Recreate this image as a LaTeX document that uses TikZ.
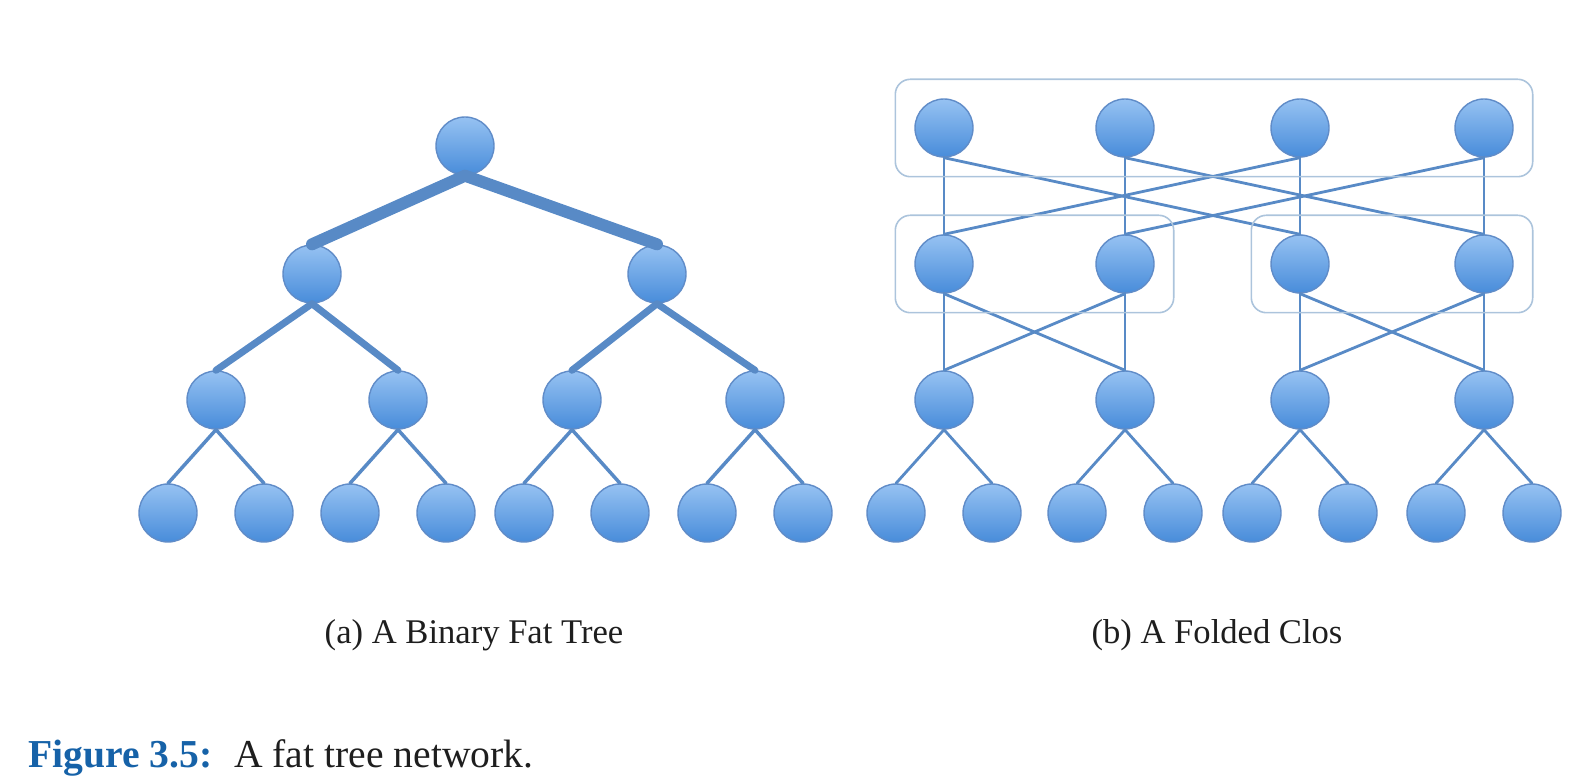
\documentclass[tikz,border=0pt]{standalone}
\usepackage{fontspec}
\setmainfont{Liberation Serif}
\usetikzlibrary{fit}
\definecolor{edgeblue}{RGB}{88,138,198}
\definecolor{ballhi}{RGB}{150,194,242}
\definecolor{balllo}{RGB}{72,140,218}
\definecolor{ballrim}{RGB}{96,140,200}
\definecolor{boxrim}{RGB}{172,196,220}
\definecolor{figblue}{RGB}{22,98,168}
\definecolor{ink}{RGB}{30,30,30}
\begin{document}
\begin{tikzpicture}[x=0.5pt, y=-0.5pt, line cap=round,
	ball/.style={circle, minimum size=29pt, inner sep=0pt, top color=ballhi, bottom color=balllo, draw=ballrim, line width=0.7pt},
	link/.style={draw=edgeblue, line width=#1},
	group/.style={draw=boxrim, line width=0.8pt, rounded corners=7.5pt, inner sep=9.5pt},
	subcap/.style={inner sep=0pt, anchor=base, text=ink, font=\fontsize{17.3}{20}\selectfont}]
	\useasboundingbox (0,0) rectangle (1578,779);
	\node[ball] (r) at (465,146) {};
	\foreach \n/\x in {a1/312, a2/657} \node[ball] (\n) at (\x,274) {};
	\foreach \n/\x in {b1/216, b2/398, b3/572, b4/755}{
		\node[ball] (\n) at (\x,400) {};
		\node[ball] (l\n) at (\x-48,513) {};
		\node[ball] (r\n) at (\x+48,513) {};
		\draw[link=1.75pt] (\n.south)--(l\n.north) (\n.south)--(r\n.north);
	}
	\draw[link=6pt] (r.south)--(a1.north) (r.south)--(a2.north);
	\draw[link=3.5pt] (a1.south)--(b1.north) (a1.south)--(b2.north) (a2.south)--(b3.north) (a2.south)--(b4.north);
	\foreach \i/\x in {1/944, 2/1125, 3/1300, 4/1484}{
		\node[ball] (t\i) at (\x,128) {};
		\node[ball] (m\i) at (\x,264) {};
		\node[ball] (e\i) at (\x,400) {};
		\node[ball] (le\i) at (\x-48,513) {};
		\node[ball] (re\i) at (\x+48,513) {};
		\draw[link=1.4pt] (e\i.south)--(le\i.north) (e\i.south)--(re\i.north);
	}
	\foreach \a/\b in {1/1, 1/3, 2/2, 2/4, 3/3, 3/1, 4/4, 4/2} \draw[link=1.4pt] (t\a.south)--(m\b.north);
	\foreach \a/\b in {1/1, 1/2, 2/2, 2/1, 3/3, 3/4, 4/4, 4/3} \draw[link=1.4pt] (m\a.south)--(e\b.north);
	\node[group, fit=(t1)(t4)] (spine) {};
	\node[group, fit=(m1)(m2)] (podl) {};
	\node[group, fit=(m3)(m4)] (podr) {};
	\node[subcap] (capa) at (474,644) {(a) A Binary Fat Tree};
	\node[subcap] (capb) at (1217,644) {(b) A Folded Clos};
	\node[inner sep=0pt, anchor=base west, text=ink, font=\fontsize{19.8}{23}\selectfont] (fig) at (28,767) {\textcolor{figblue}{\bfseries Figure 3.5:}\hspace{0.55em}A fat tree network.};
\end{tikzpicture}
\end{document}
